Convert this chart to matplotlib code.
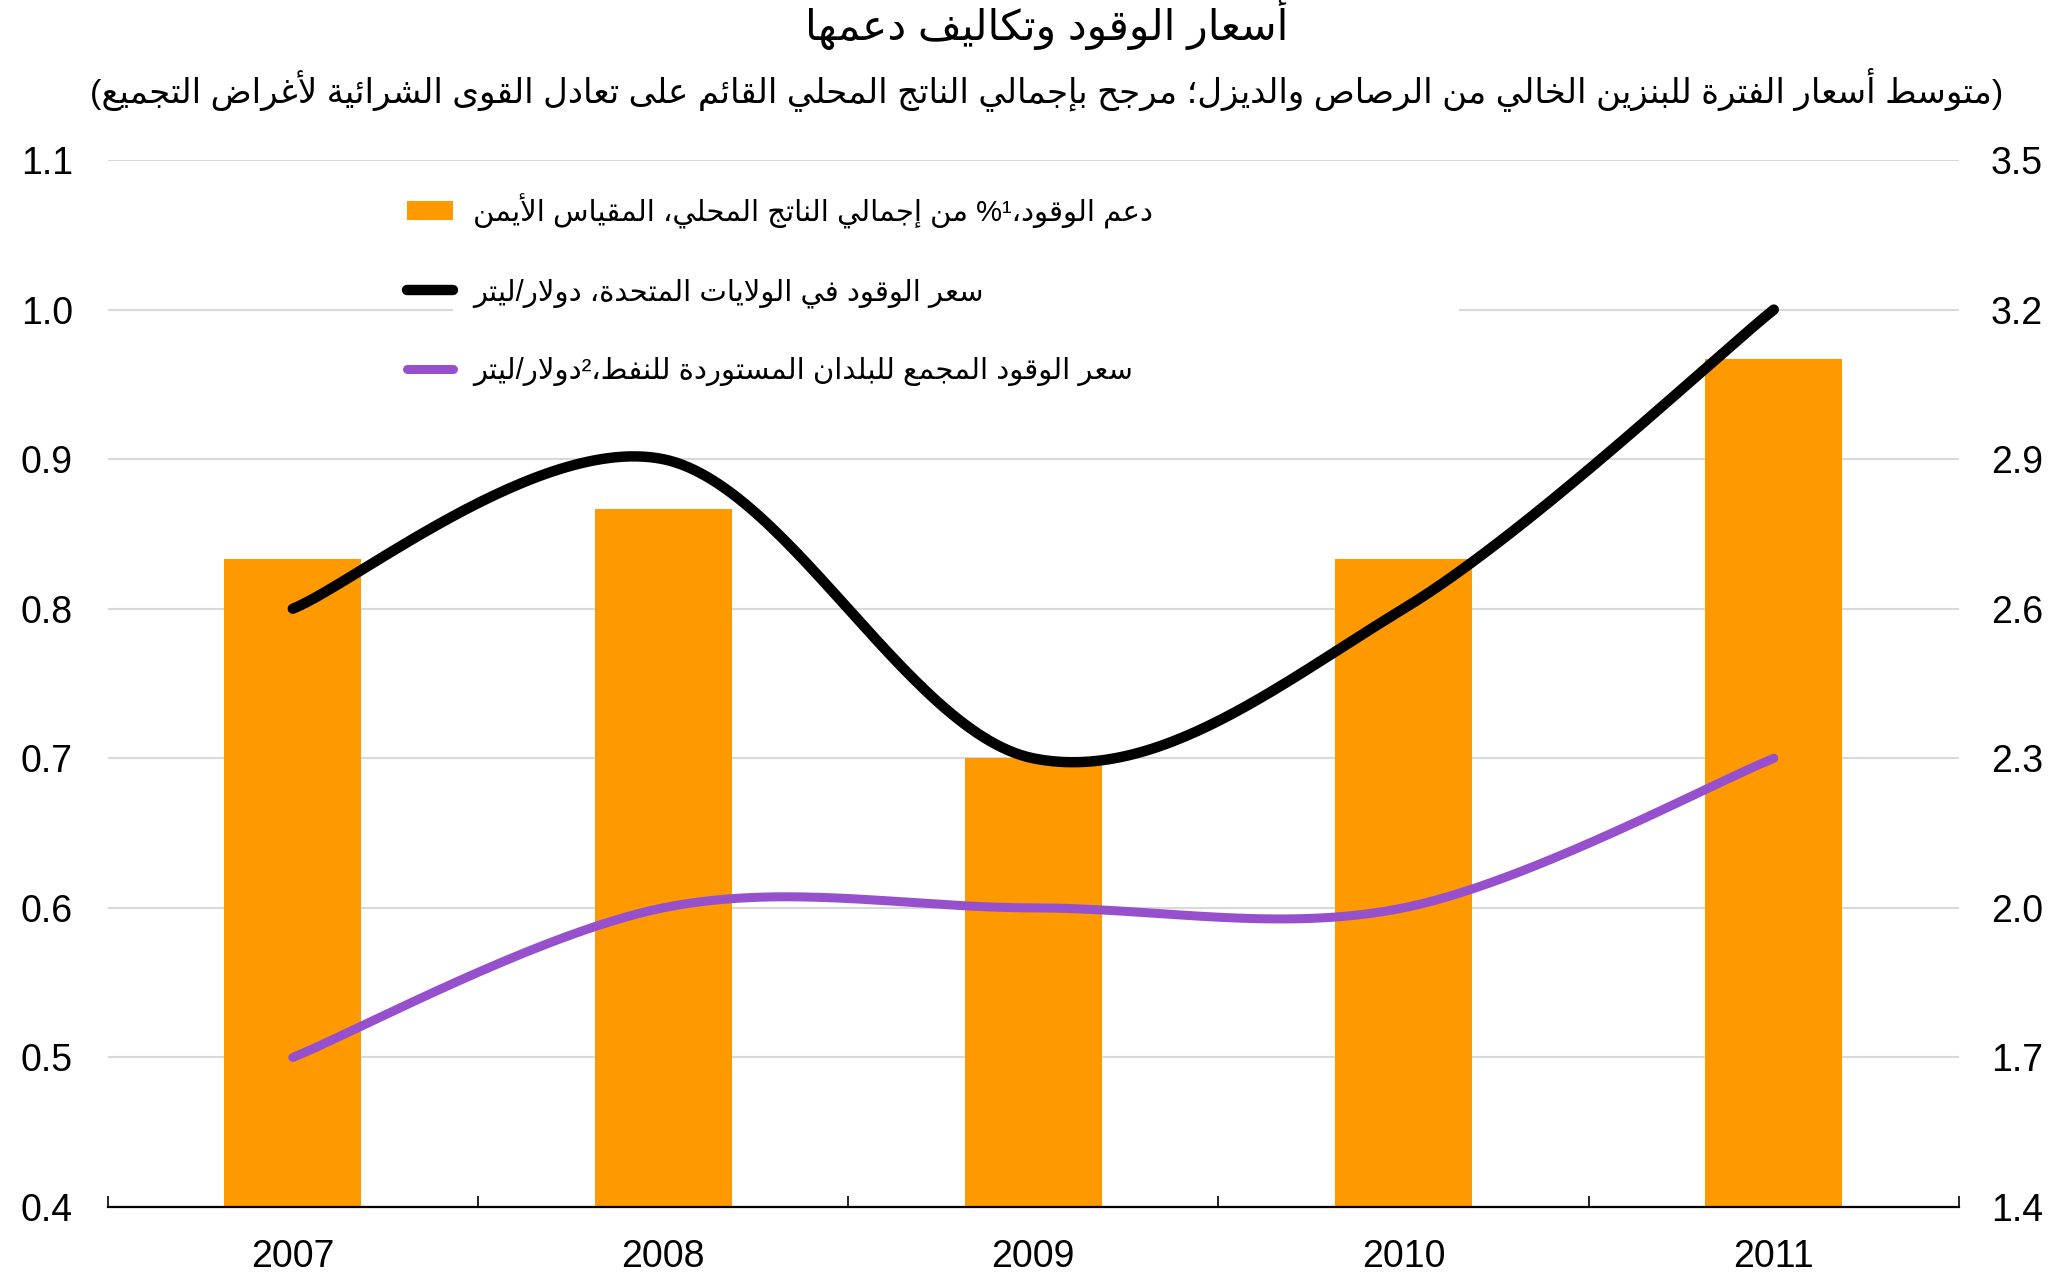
import numpy as np
import matplotlib
matplotlib.use('Agg')
import matplotlib.pyplot as plt
from matplotlib.patches import Patch, Rectangle
from matplotlib.lines import Line2D

plt.rcParams['font.family'] = ['Liberation Sans', 'DejaVu Sans']

# ---- data ----
years = ['2007', '2008', '2009', '2010', '2011']
subsidy_pct_gdp = [2.7, 2.8, 2.3, 2.7, 3.1]      # bars, right axis
us_price = [0.8, 0.9, 0.7, 0.8, 1.0]             # black line, left axis
importers_price = [0.5, 0.6, 0.6, 0.6, 0.7]      # purple line, left axis
left_ticks = [0.4, 0.5, 0.6, 0.7, 0.8, 0.9, 1.0, 1.1]
right_ticks = [1.4, 1.7, 2.0, 2.3, 2.6, 2.9, 3.2, 3.5]

title_ar = 'أسعار الوقود وتكاليف دعمها'
subtitle_ar = ('(متوسط أسعار الفترة للبنزين الخالي من الرصاص والديزل؛ مرجح بإجمالي '
               'الناتج المحلي القائم على تعادل القوى الشرائية لأغراض التجميع)')
label_subsidy = ['دعم الوقود،', '%¹', ' من إجمالي الناتج المحلي، المقياس الأيمن']
label_us = ['سعر الوقود في الولايات المتحدة، دولار/ليتر']
label_imp = ['سعر الوقود المجمع للبلدان المستوردة للنفط،', '²', 'دولار/ليتر']

ORANGE = '#FF9900'
PURPLE = '#9650CD'

# ---- minimal arabic shaping (no raqm in matplotlib) ----
DUAL = {'ئ': 0xFE89, 'ب': 0xFE8F, 'ت': 0xFE95, 'ث': 0xFE99, 'ج': 0xFE9D, 'ح': 0xFEA1,
        'خ': 0xFEA5, 'س': 0xFEB1, 'ش': 0xFEB5, 'ص': 0xFEB9, 'ض': 0xFEBD, 'ط': 0xFEC1,
        'ظ': 0xFEC5, 'ع': 0xFEC9, 'غ': 0xFECD, 'ف': 0xFED1, 'ق': 0xFED5, 'ك': 0xFED9,
        'ل': 0xFEDD, 'م': 0xFEE1, 'ن': 0xFEE5, 'ه': 0xFEE9, 'ي': 0xFEF1}
RIGHT = {'آ': 0xFE81, 'أ': 0xFE83, 'ؤ': 0xFE85, 'إ': 0xFE87, 'ا': 0xFE8D, 'ة': 0xFE93,
         'د': 0xFEA9, 'ذ': 0xFEAB, 'ر': 0xFEAD, 'ز': 0xFEAF, 'و': 0xFEED, 'ى': 0xFEEF}
LAM_ALEF = {'آ': 0xFEF5, 'أ': 0xFEF7, 'إ': 0xFEF9, 'ا': 0xFEFB}


def shape(text):
    out = []
    i = 0
    while i < len(text):
        c = text[i]
        prev = text[i - 1] if i > 0 else ''
        nxt = text[i + 1] if i + 1 < len(text) else ''
        jp = prev in DUAL
        if c == 'ل' and nxt in LAM_ALEF:
            out.append(chr(LAM_ALEF[nxt] + (1 if jp else 0)))
            i += 2
            continue
        if c in DUAL:
            jn = nxt in DUAL or nxt in RIGHT
            k = 3 if (jp and jn) else 1 if jp else 2 if jn else 0
            out.append(chr(DUAL[c] + k))
        elif c in RIGHT:
            out.append(chr(RIGHT[c] + (1 if jp else 0)))
        elif c == 'ء':
            out.append('\uFE80')
        else:
            out.append(c)
        i += 1
    return out


def rtl(text):
    mirror = {'(': ')', ')': '('}
    return ''.join(mirror.get(g, g) for g in shape(text)[::-1])


def rtl_runs(runs):
    # runs in logical order; arabic runs get shaped+reversed, others kept
    vis = []
    for r in runs[::-1]:
        if any(ch in DUAL or ch in RIGHT for ch in r):
            vis.append(rtl(r))
        else:
            vis.append(r)
    return ''.join(vis)


def smooth(y, steps=60):
    # excel-like smoothed line (bezier through the points)
    x = np.arange(len(y), dtype=float)
    y = np.asarray(y, dtype=float)
    n = len(y)
    xs, ys = [], []
    t = np.linspace(0, 1, steps)
    for i in range(n - 1):
        i0, i3 = max(i - 1, 0), min(i + 2, n - 1)
        p0 = np.array([x[i], y[i]])
        p3 = np.array([x[i + 1], y[i + 1]])
        p1 = p0 + (p3 - np.array([x[i0], y[i0]])) / 6
        p2 = p3 - (np.array([x[i3], y[i3]]) - p0) / 6
        b = ((1 - t) ** 3)[:, None] * p0 + (3 * (1 - t) ** 2 * t)[:, None] * p1 \
            + (3 * (1 - t) * t ** 2)[:, None] * p2 + (t ** 3)[:, None] * p3
        xs.extend(b[:, 0])
        ys.extend(b[:, 1])
    return np.array(xs), np.array(ys)


fig = plt.figure(figsize=(20.59, 12.77), dpi=100)
ax = fig.add_axes([0.0523, 0.0548, 0.8991, 0.8199])
axr = ax.twinx()

x = np.arange(len(years))
axr.bar(x, subsidy_pct_gdp, width=0.37, color=ORANGE, zorder=2)
axr.set_ylim(1.4, 3.5)
axr.set_yticks(right_ticks)
axr.set_yticklabels([f'{v:.1f}' for v in right_ticks])
axr.yaxis.grid(True, color='#D9D9D9', lw=1.5)
axr.set_axisbelow(True)

ax.set_zorder(axr.get_zorder() + 1)
ax.patch.set_visible(False)
ax.set_xlim(-0.5, 4.5)
ax.set_ylim(0.4, 1.1)
ax.set_yticks(left_ticks)
ax.set_yticklabels([f'{v:.1f}' for v in left_ticks])

sx, sy = smooth(us_price)
ax.plot(sx, sy, color='black', lw=7.5, solid_capstyle='round', zorder=3)
sx, sy = smooth(importers_price)
ax.plot(sx, sy, color=PURPLE, lw=6.5, solid_capstyle='round', zorder=3)

for a in (ax, axr):
    for s in ['top', 'left', 'right']:
        a.spines[s].set_visible(False)
axr.spines['bottom'].set_visible(False)
ax.spines['bottom'].set_color('black')
ax.spines['bottom'].set_linewidth(1.6)

ax.set_xticks(x)
ax.set_xticklabels(years)
ax.set_xticks(np.arange(-0.5, len(years), 1.0), minor=True)
ax.tick_params(axis='x', which='major', length=0, pad=23, labelsize=27)
ax.tick_params(axis='x', which='minor', direction='in', length=8, width=1.2, color='black')
ax.tick_params(axis='y', length=0, pad=25, labelsize=27)
axr.tick_params(axis='y', length=0, pad=23, labelsize=27)

# white box behind the legend hides the gridline
ax.add_patch(Rectangle((0.1864, 0.771), 0.5436, 0.2147, transform=ax.transAxes,
                       facecolor='white', edgecolor='none', zorder=1.5))

handles = [Patch(facecolor=ORANGE, edgecolor='none'),
           Line2D([], [], color='black', lw=7.5, solid_capstyle='round'),
           Line2D([], [], color=PURPLE, lw=6.5, solid_capstyle='round')]
labels = [rtl_runs(label_subsidy), rtl_runs(label_us), rtl_runs(label_imp)]
ax.legend(handles, labels, loc='upper left', bbox_to_anchor=(407 / 2059, 1 - 193 / 1277),
          bbox_transform=fig.transFigure, frameon=False, fontsize=21,
          handlelength=1.58, handleheight=0.65, handletextpad=0.68,
          labelspacing=1.7, borderpad=0, borderaxespad=0)

fig.text(1047 / 2059, 1 - 23 / 1277, rtl(title_ar), ha='center', va='center', fontsize=30.5)
fig.text(1047 / 2059, 1 - 89 / 1277, rtl(subtitle_ar), ha='center', va='center',
         fontsize=24.5)

fig.savefig('out.png', dpi=100, facecolor='white')
